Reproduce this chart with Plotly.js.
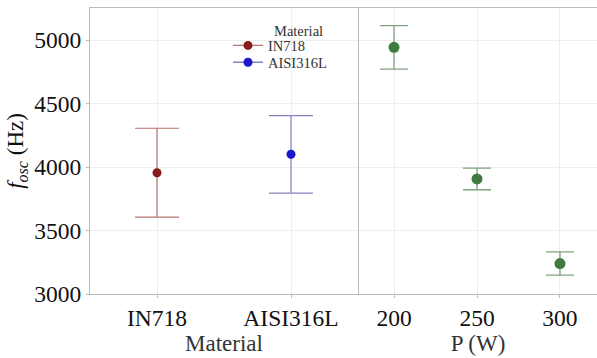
<!DOCTYPE html>
<html>
<head>
<meta charset="utf-8">
<script src="https://cdn.plot.ly/plotly-3.0.1.min.js"></script>
<style>html,body{margin:0;padding:0;background:#fff;}#chart{width:597px;height:358px;}</style>
</head>
<body>
<div id="chart"></div>
<script>
// Material panel
var materials = ["IN718", "AISI316L"];
var materialMean = [3955, 4100];
var materialErr = [350, 305];
var materialColors = ["#8B1A1A", "#1A1ACC"];
var materialBarColors = ["#B87472", "#8484C0"];

// Power panel
var powers = [200, 250, 300];
var powerMean = [4942, 3906, 3240];
var powerErr = [172, 85, 92];

var fontFam = "Liberation Serif";
var legendIds = ["legend", "legend2"];

var traces = [];
for (var i = 0; i < materials.length; i++) {
  traces.push({
    type: "scatter", mode: "lines+markers",
    x: [materials[i]], y: [materialMean[i]],
    name: materials[i], legend: legendIds[i],
    xaxis: "x", yaxis: "y",
    marker: {color: materialColors[i], size: 9},
    line: {color: materialBarColors[i], width: 1.3},
    error_y: {type: "data", array: [materialErr[i]], visible: true,
              color: materialBarColors[i], thickness: 1.2, width: 22}
  });
}
traces.push({
  type: "scatter", mode: "markers",
  x: powers, y: powerMean, showlegend: false,
  xaxis: "x2", yaxis: "y",
  marker: {color: "#3F7A3F", size: 11},
  error_y: {type: "data", array: powerErr, visible: true,
            color: "#7FA27F", thickness: 1.3, width: 14}
});

var legFont = {size: 14.5, family: fontFam, color: "#333"};
var lx = (228 - 90) / 507;
var layout = {
  width: 597, height: 358,
  margin: {l: 90, r: 0, t: 8, b: 64},
  paper_bgcolor: "#fff", plot_bgcolor: "#fff",
  font: {family: fontFam, color: "#111"},
  showlegend: true,
  legend: {x: lx, xanchor: "left", y: 0.925, yanchor: "top",
           bgcolor: "rgba(0,0,0,0)", font: legFont, itemwidth: 30},
  legend2: {x: lx, xanchor: "left", y: 0.866, yanchor: "top",
           bgcolor: "rgba(0,0,0,0)", font: legFont, itemwidth: 30},
  annotations: [{text: "Material", xref: "paper", yref: "paper",
                 x: (272 - 90) / 507, y: (294 - 31) / 286, xanchor: "left", yanchor: "middle",
                 showarrow: false, font: legFont}],
  xaxis: {domain: [0, 268 / 507], type: "category", range: [-0.5, 1.5],
          showline: true, mirror: true, linecolor: "#BBBBBB", linewidth: 1,
          showgrid: true, gridcolor: "#EEEEEE", zeroline: false,
          ticks: "outside", ticklen: 3, tickcolor: "#BBBBBB",
          tickfont: {size: 23.5, family: fontFam, color: "#111"},
          title: {text: "Material", font: {size: 23, family: fontFam, color: "#333"}, standoff: 2}},
  xaxis2: {domain: [269 / 507, 1], anchor: "y", range: [178.9, 322.3],
           tickvals: powers, ticktext: powers.map(String),
           showline: true, mirror: true, linecolor: "#BBBBBB", linewidth: 1,
           showgrid: true, gridcolor: "#EEEEEE", zeroline: false,
           ticks: "outside", ticklen: 3, tickcolor: "#BBBBBB",
           tickfont: {size: 23.5, family: fontFam, color: "#111"},
           title: {text: "P (W)", font: {size: 23, family: fontFam, color: "#333"}, standoff: 4}},
  yaxis: {range: [3000, 5252], tickvals: [3000, 3500, 4000, 4500, 5000],
          showline: true, mirror: true, linecolor: "#BBBBBB", linewidth: 1,
          showgrid: true, gridcolor: "#EEEEEE", zeroline: false,
          ticks: "outside", ticklen: 3, tickcolor: "#BBBBBB",
          tickfont: {size: 23.5, family: fontFam, color: "#111"},
          title: {text: "<i>f<sub>osc</sub></i> (Hz)", font: {size: 23, family: fontFam, color: "#111"}, standoff: 4}}
};

Plotly.newPlot("chart", traces, layout, {displayModeBar: false, staticPlot: true});
</script>
</body>
</html>
